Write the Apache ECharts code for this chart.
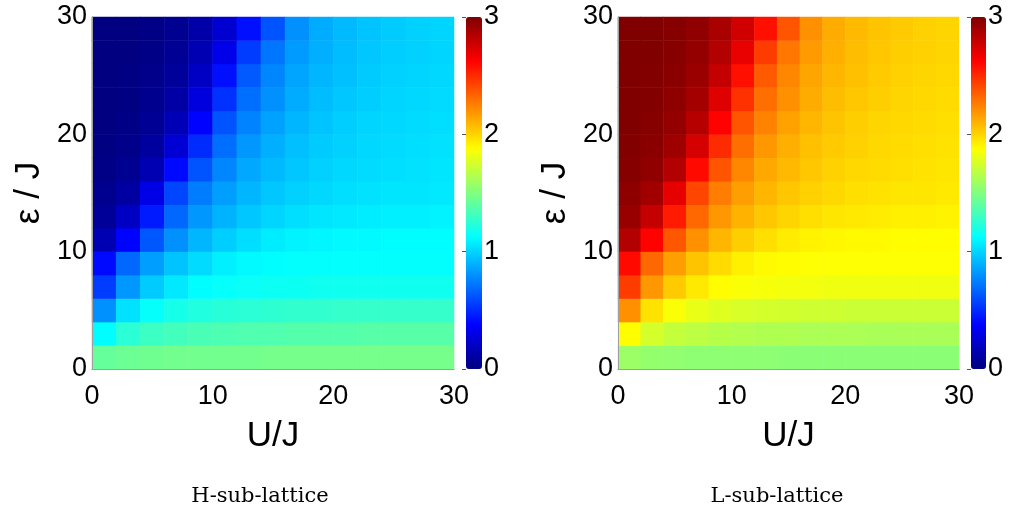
<!DOCTYPE html>
<html>
<head>
<meta charset="utf-8">
<script src="https://cdn.jsdelivr.net/npm/echarts@6/dist/echarts.min.js"></script>
<style>html,body{margin:0;padding:0;background:#fff}#c{width:1009px;height:515px}</style>
</head>
<body>
<div id="c"></div>
<script>
// Cell centres (U/J along x, eps/J along y), 2-unit cells covering 0..30
const U_CENTERS = [1,3,5,7,9,11,13,15,17,19,21,23,25,27,29];
const EPS_CENTERS = [1,3,5,7,9,11,13,15,17,19,21,23,25,27,29];
const AXIS_TICKS = [0,10,20,30];
const CBAR_TICKS = [0,1,2,3];

// H-sub-lattice values, one row per eps centre (bottom -> top), columns follow U_CENTERS
const H_ROWS = [
  [1.42,1.44,1.45,1.46,1.46,1.46,1.46,1.47,1.47,1.47,1.47,1.47,1.47,1.47,1.47],
  [1.12,1.25,1.30,1.32,1.34,1.35,1.36,1.36,1.37,1.37,1.37,1.38,1.38,1.38,1.38],
  [0.80,1.04,1.14,1.19,1.22,1.24,1.25,1.26,1.27,1.27,1.28,1.28,1.28,1.28,1.28],
  [0.55,0.82,0.97,1.06,1.12,1.14,1.15,1.16,1.16,1.17,1.17,1.17,1.17,1.17,1.17],
  [0.40,0.68,0.84,0.95,1.02,1.08,1.11,1.12,1.13,1.13,1.13,1.13,1.13,1.13,1.13],
  [0.15,0.38,0.63,0.80,0.91,0.98,1.03,1.07,1.09,1.10,1.11,1.11,1.12,1.12,1.12],
  [0.07,0.20,0.45,0.68,0.82,0.90,0.96,1.00,1.03,1.05,1.06,1.07,1.08,1.08,1.09],
  [0.04,0.10,0.30,0.58,0.74,0.84,0.91,0.96,0.99,1.01,1.03,1.04,1.05,1.05,1.06],
  [0.02,0.05,0.15,0.40,0.62,0.77,0.87,0.92,0.96,0.99,1.01,1.02,1.03,1.04,1.05],
  [0.01,0.03,0.09,0.25,0.50,0.70,0.82,0.89,0.94,0.97,0.99,1.01,1.02,1.03,1.04],
  [0.00,0.02,0.06,0.16,0.38,0.62,0.76,0.85,0.91,0.95,0.98,1.00,1.01,1.02,1.03],
  [0.00,0.01,0.04,0.11,0.28,0.52,0.70,0.80,0.88,0.93,0.96,0.98,1.00,1.01,1.02],
  [0.00,0.01,0.03,0.08,0.20,0.42,0.64,0.77,0.86,0.91,0.94,0.97,0.99,1.00,1.01],
  [0.00,0.00,0.02,0.06,0.15,0.31,0.55,0.72,0.83,0.89,0.93,0.96,0.98,0.99,1.00],
  [0.00,0.00,0.02,0.05,0.12,0.24,0.42,0.62,0.80,0.88,0.92,0.95,0.97,0.99,1.00]
];

// L-sub-lattice values, same layout
const L_ROWS = [
  [1.58,1.56,1.55,1.54,1.54,1.54,1.54,1.53,1.53,1.53,1.53,1.53,1.53,1.53,1.53],
  [1.88,1.75,1.70,1.68,1.66,1.65,1.64,1.64,1.63,1.63,1.63,1.62,1.62,1.62,1.62],
  [2.20,1.96,1.86,1.81,1.78,1.76,1.75,1.74,1.73,1.73,1.72,1.72,1.72,1.72,1.72],
  [2.45,2.18,2.03,1.94,1.88,1.86,1.85,1.84,1.84,1.83,1.83,1.83,1.83,1.83,1.83],
  [2.60,2.32,2.16,2.05,1.98,1.92,1.89,1.88,1.87,1.87,1.87,1.87,1.87,1.87,1.87],
  [2.85,2.62,2.37,2.20,2.09,2.02,1.97,1.93,1.91,1.90,1.89,1.89,1.88,1.88,1.88],
  [2.93,2.80,2.55,2.32,2.18,2.10,2.04,2.00,1.97,1.95,1.94,1.93,1.92,1.92,1.91],
  [2.96,2.90,2.70,2.42,2.26,2.16,2.09,2.04,2.01,1.99,1.97,1.96,1.95,1.95,1.94],
  [2.98,2.95,2.85,2.60,2.38,2.23,2.13,2.08,2.04,2.01,1.99,1.98,1.97,1.96,1.95],
  [2.99,2.97,2.91,2.75,2.50,2.30,2.18,2.11,2.06,2.03,2.01,1.99,1.98,1.97,1.96],
  [3.00,2.98,2.94,2.84,2.62,2.38,2.24,2.15,2.09,2.05,2.02,2.00,1.99,1.98,1.97],
  [3.00,2.99,2.96,2.89,2.72,2.48,2.30,2.20,2.12,2.07,2.04,2.02,2.00,1.99,1.98],
  [3.00,2.99,2.97,2.92,2.80,2.58,2.36,2.23,2.14,2.09,2.06,2.03,2.01,2.00,1.99],
  [3.00,3.00,2.98,2.94,2.85,2.69,2.45,2.28,2.17,2.11,2.07,2.04,2.02,2.01,2.00],
  [3.00,3.00,2.98,2.95,2.88,2.76,2.58,2.38,2.20,2.12,2.08,2.05,2.03,2.01,2.00]
];

const JET = ['#000080','#0000ff','#0080ff','#00ffff','#80ff80','#ffff00','#ff8000','#ff0000','#800000'];
const FONT = 'Liberation Sans';

function cells(rows){
  const out = [];
  rows.forEach((row, j) => row.forEach((v, i) => out.push([i, j, v])));
  return out;
}

const plots = [
  {left: 92, width: 362, cbLeft: 466, cbWidth: 16, caption: 'H-sub-lattice', capX: 260},
  {left: 618, width: 341, cbLeft: 971, cbWidth: 15, caption: 'L-sub-lattice', capX: 777}
];
const TOP = 17, HEIGHT = 352;

const grid = [], xAxis = [], yAxis = [], series = [], visualMap = [], graphic = [];
plots.forEach((p, k) => {
  const gPlot = grid.length;
  grid.push({left: p.left, top: TOP, width: p.width, height: HEIGHT, containLabel: false});
  const gBar = grid.length;
  grid.push({left: p.cbLeft, top: TOP, width: p.cbWidth, height: HEIGHT, containLabel: false});

  const xCat = xAxis.length;
  xAxis.push({gridIndex: gPlot, type: 'category', data: U_CENTERS.map(String), position: 'top', z: 10,
    axisLine: {show: true, lineStyle: {color: '#a0a0a0', width: 1}}, axisTick: {show: false}, axisLabel: {show: false}, splitLine: {show: false}});
  xAxis.push({gridIndex: gPlot, type: 'value', min: AXIS_TICKS[0], max: AXIS_TICKS[AXIS_TICKS.length-1], interval: 10, position: 'bottom', z: 10,
    axisLine: {show: true, lineStyle: {color: '#a0a0a0', width: 1}}, axisTick: {show: false}, splitLine: {show: false},
    axisLabel: {fontFamily: FONT, fontSize: 27, color: '#000', margin: 14},
    name: 'U/J', nameLocation: 'middle', nameGap: 50, nameTextStyle: {fontFamily: FONT, fontSize: 35, color: '#000'}});
  xAxis.push({gridIndex: gBar, type: 'value', min: 0, max: 1, show: false});

  const yCat = yAxis.length;
  yAxis.push({gridIndex: gPlot, type: 'category', data: EPS_CENTERS.map(String), position: 'right', z: 10,
    axisLine: {show: true, lineStyle: {color: '#a0a0a0', width: 1}}, axisTick: {show: false}, axisLabel: {show: false}, splitLine: {show: false}});
  yAxis.push({gridIndex: gPlot, type: 'value', min: AXIS_TICKS[0], max: AXIS_TICKS[AXIS_TICKS.length-1], interval: 10, position: 'left', z: 10,
    axisLine: {show: true, lineStyle: {color: '#a0a0a0', width: 1}}, axisTick: {show: false}, splitLine: {show: false},
    axisLabel: {fontFamily: FONT, fontSize: 27, color: '#000', margin: 5, padding: [8, 0, 0, 0]},
    name: 'ε / J', nameLocation: 'middle', nameGap: 45, nameTextStyle: {fontFamily: FONT, fontSize: 35, color: '#000'}});
  yAxis.push({gridIndex: gBar, type: 'value', min: CBAR_TICKS[0], max: CBAR_TICKS[CBAR_TICKS.length-1], interval: 1, position: 'right', z: 10,
    axisLine: {show: false}, splitLine: {show: false},
    axisTick: {show: true, inside: true, length: 4, lineStyle: {color: '#555', width: 1}},
    axisLabel: {fontFamily: FONT, fontSize: 27, color: '#000', margin: 2, padding: [8, 0, 0, 0]}});

  series.push({type: 'heatmap', xAxisIndex: xCat, yAxisIndex: yCat, data: cells(k === 0 ? H_ROWS : L_ROWS),
    itemStyle: {borderWidth: 0}, emphasis: {disabled: true}, progressive: 0});

  visualMap.push({type: 'continuous', seriesIndex: k, min: CBAR_TICKS[0], max: CBAR_TICKS[CBAR_TICKS.length-1],
    inRange: {color: JET}, left: p.cbLeft, top: TOP, itemWidth: p.cbWidth, itemHeight: HEIGHT,
    calculable: false, hoverLink: false, padding: 0, text: null, showLabel: false, orient: 'vertical'});

  graphic.push({type: 'text', x: p.capX, y: 497, style: {text: p.caption, font: '21px "DejaVu Serif"', fill: '#000', align: 'center', verticalAlign: 'middle'}});
});

const chart = echarts.init(document.getElementById('c'), null, {renderer: 'canvas'});
chart.setOption({
  animation: false,
  backgroundColor: '#fff',
  grid, xAxis, yAxis, series, visualMap, graphic
});
</script>
</body>
</html>
